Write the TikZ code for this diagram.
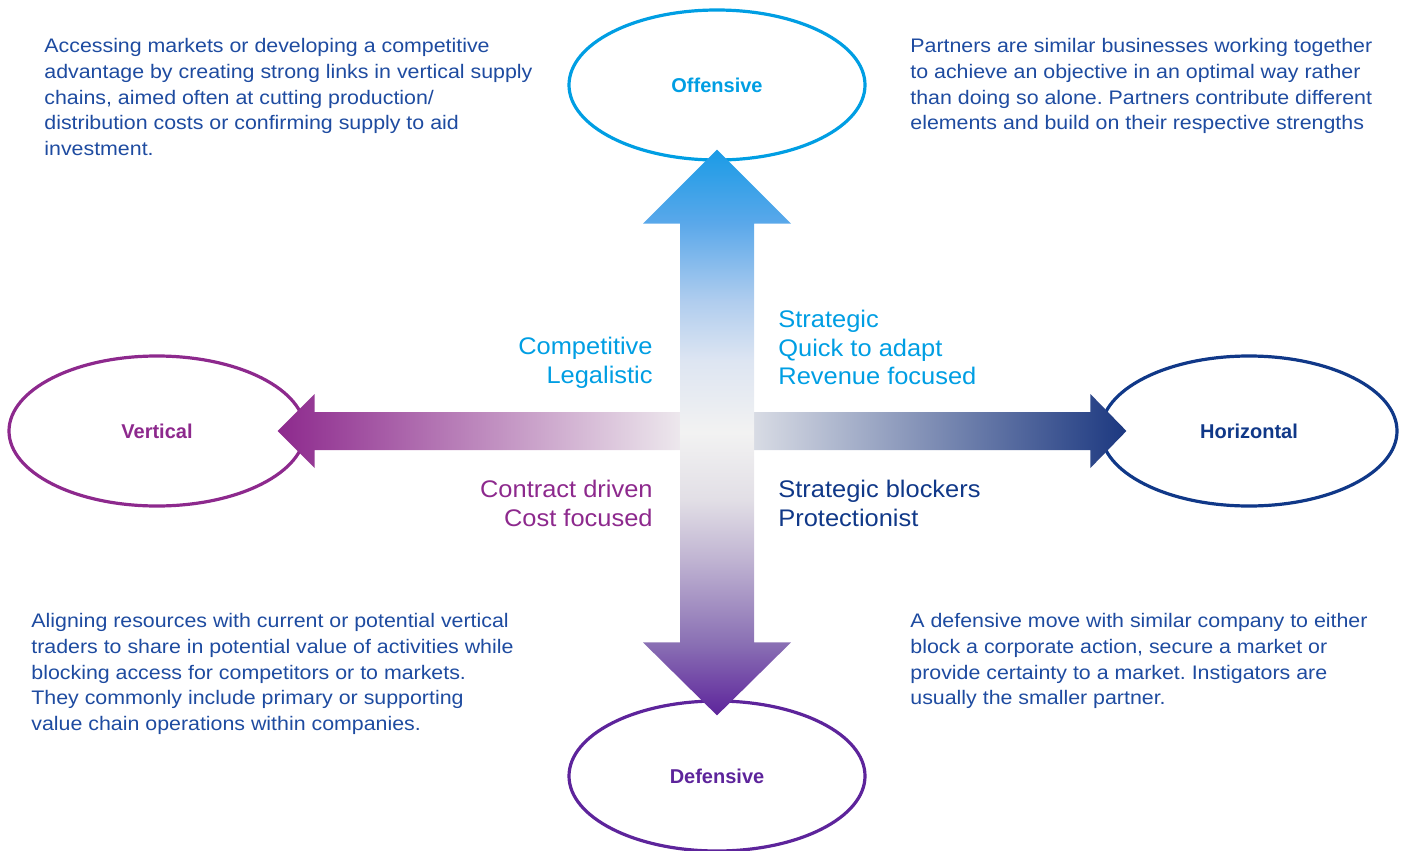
\documentclass[tikz,border=0pt]{standalone}
\usepackage{fontspec}
\setmainfont{Liberation Sans}
\newfontfamily\lblfont{Liberation Sans}[FakeStretch=1.06]
\newfontfamily\parafont{Liberation Sans}[FakeStretch=1.09]
\usetikzlibrary{calc,shapes.geometric}
\frenchspacing

\definecolor{offblue}{RGB}{0,158,227}
\definecolor{vertpurple}{RGB}{141,41,141}
\definecolor{horblue}{RGB}{16,56,136}
\definecolor{defpurple}{RGB}{93,36,155}
\definecolor{paratext}{RGB}{30,75,160}
\definecolor{midgrey}{RGB}{242,242,242}
\definecolor{tipnavy}{RGB}{28,56,128}
% stops of the up/down arrow
\definecolor{vs1}{RGB}{138,112,180}
\definecolor{vs2}{RGB}{192,180,210}
\definecolor{vs3}{RGB}{226,223,230}
\definecolor{vs4}{RGB}{221,229,242}
\definecolor{vs5}{RGB}{176,205,238}
\definecolor{vs6}{RGB}{90,168,234}
\definecolor{vs7}{RGB}{26,155,230}
\pgfdeclareverticalshading{updown}{100bp}{color(0bp)=(defpurple); color(25bp)=(defpurple);
  color(31.4bp)=(vs1); color(38.8bp)=(vs2); color(44.1bp)=(vs3); color(50bp)=(midgrey);
  color(56.4bp)=(vs4); color(61.6bp)=(vs5); color(68.5bp)=(vs6); color(75bp)=(vs7);
  color(100bp)=(vs7)}

\begin{document}
\begin{tikzpicture}[x=0.5pt,y=-0.5pt,
      oval/.style={ellipse,draw,line width=1.6pt,minimum width=148pt,
        minimum height=75pt,inner sep=0pt,font=\bfseries\fontsize{10}{12}\selectfont},
      para/.style={anchor=north west,inner sep=0pt,align=left,text=paratext,
        font=\parafont\fontsize{9.8}{12.85}\selectfont},
      lbl/.style={inner sep=0pt,font=\lblfont\fontsize{12}{14.25}\selectfont}]
    \useasboundingbox (0,0) rectangle (1403,851);

    % the four ellipses
    \node[oval,draw=offblue,text=offblue](off) at (717,85){Offensive};
    \node[oval,draw=defpurple,text=defpurple](def) at (717,776){Defensive};
    \node[oval,draw=vertpurple,text=vertpurple](vert) at (157,431){Vertical};
    \node[oval,draw=horblue,text=horblue](hor) at (1249,431){Horizontal};

    % arrow tips
    \coordinate (vt) at ($(off.south)+(0,-12)$);
    \coordinate (vb) at ($(def.north)+(0,16)$);
    \coordinate (ht1) at ($(vert.east)+(-29,0)$);
    \coordinate (ht2) at ($(hor.west)+(27,0)$);

    \shade[left color=vertpurple,right color=tipnavy,middle color=midgrey]
      (ht1) -- ++(37,-37) -- ++(0,18) -- ($(ht2)+(-36,-19)$) -- ++(0,-18)
      -- (ht2) -- ++(-36,37) -- ++(0,-18) -- ($(ht1)+(37,19)$) -- ++(0,18) -- cycle;
    \shade[shading=updown]
      (vt) -- ++(74,74) -- ++(-37,0) -- ($(vb)+(37,-73)$) -- ++(37,0)
      -- (vb) -- ++(-74,-73) -- ++(37,0) -- ($(vt)+(-37,74)$) -- ++(-37,0) -- cycle;

    % labels round the centre
    \node[lbl,anchor=north east,align=right,text=offblue](cl) at (653,337){Competitive\\Legalistic};
    \node[lbl,anchor=north west,align=left,text=offblue](sq) at (778,310){Strategic\\Quick to adapt\\Revenue focused};
    \node[lbl,anchor=north east,align=right,text=vertpurple](cc) at (653,480){Contract driven\\Cost focused};
    \node[lbl,anchor=north west,align=left,text=horblue](sp) at (778,480){Strategic blockers\\Protectionist};

    % corner texts
    \node[para](tl) at (44,38){Accessing markets or developing a competitive\\advantage by creating strong links in vertical supply\\chains, aimed often at cutting production/\\distribution costs or confirming supply to aid\\investment.};
    \node[para](tr) at (910,38){Partners are similar businesses working together\\to achieve an objective in an optimal way rather\\than doing so alone. Partners contribute different\\elements and build on their respective strengths};
    \node[para](bl) at (31,613){Aligning resources with current or potential vertical\\traders to share in potential value of activities while\\blocking access for competitors or to markets.\\They commonly include primary or supporting\\value chain operations within companies.};
    \node[para](br) at (910,613){A defensive move with similar company to either\\block a corporate action, secure a market or\\provide certainty to a market. Instigators are\\usually the smaller partner.};
\end{tikzpicture}
\end{document}
